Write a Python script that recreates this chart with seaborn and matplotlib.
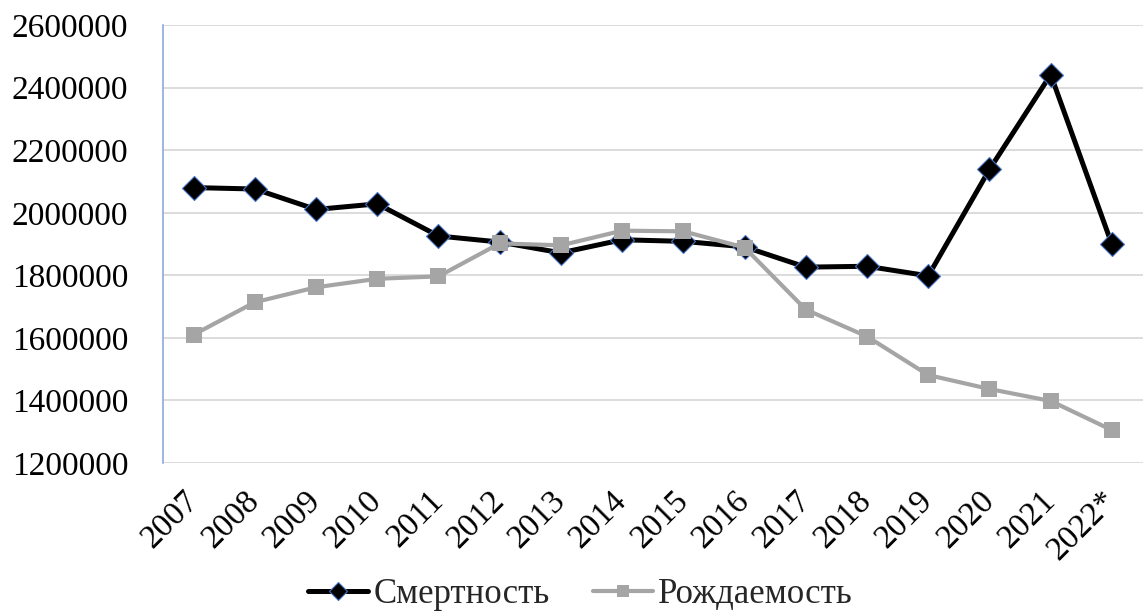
import matplotlib
matplotlib.use("Agg")
import matplotlib.pyplot as plt
import seaborn as sns
import pandas as pd

years = ["2007", "2008", "2009", "2010", "2011", "2012", "2013", "2014",
         "2015", "2016", "2017", "2018", "2019", "2020", "2021", "2022*"]
deaths = [2080445, 2075954, 2010543, 2028516, 1925720, 1906335, 1871809, 1913613,
          1908541, 1891015, 1826125, 1828910, 1798307, 2138586, 2441594, 1898644]
births = [1610122, 1713947, 1761687, 1788948, 1796629, 1902084, 1895822, 1942683,
          1940579, 1888729, 1690307, 1604344, 1481074, 1436514, 1398253, 1305000]
yticks = [1200000, 1400000, 1600000, 1800000, 2000000, 2200000, 2400000, 2600000]

sns.set_theme(style="white")
plt.rcParams['font.family'] = ['Liberation Serif', 'DejaVu Serif']

df_d = pd.DataFrame({"year": years, "value": deaths})
df_b = pd.DataFrame({"year": years, "value": births})

fig = plt.figure(figsize=(11.43, 6.12), dpi=100)
ax = fig.add_axes([0.1426, 0.2435, 0.857, 0.7155])

sns.lineplot(data=df_d, x="year", y="value", ax=ax, color="black", linewidth=3.6,
             marker="D", markersize=12, markerfacecolor="black",
             markeredgecolor="#4472C4", markeredgewidth=0.8,
             label="Смертность", zorder=3)
sns.lineplot(data=df_b, x="year", y="value", ax=ax, color="#A5A5A5", linewidth=3.0,
             marker="s", markersize=11, markerfacecolor="#A5A5A5",
             markeredgecolor="#A5A5A5", markeredgewidth=0,
             label="Рождаемость", zorder=4)

ax.set_xlim(-0.5, len(years) - 0.5)
ax.set_ylim(yticks[0], yticks[-1])
ax.set_yticks(yticks)
ax.set_yticklabels([str(v) for v in yticks])
ax.yaxis.grid(True, color="#D9D9D9", linewidth=1.3)
ax.xaxis.grid(False)
ax.set_axisbelow(True)
for s in ["top", "right", "bottom"]:
    ax.spines[s].set_visible(False)
ax.spines["left"].set_color("#8EA9DB")
ax.spines["left"].set_linewidth(1.2)
ax.tick_params(axis="y", length=0, pad=25, labelsize=24, labelcolor="black")
ax.tick_params(axis="x", length=0, pad=24, labelsize=24, labelcolor="black")
for lab in ax.get_xticklabels():
    lab.set_rotation(45)
    lab.set_ha("right")
    lab.set_va("center")
    lab.set_rotation_mode("anchor")
ax.set_xlabel("")
ax.set_ylabel("")

ax.legend(loc="center", bbox_to_anchor=(0.508, 0.028), bbox_transform=fig.transFigure,
          ncol=2, frameon=False, fontsize=25, handlelength=1.73, handletextpad=0.15,
          columnspacing=1.24, borderaxespad=0, markerscale=0.75)

fig.savefig("out.png", dpi=100)
